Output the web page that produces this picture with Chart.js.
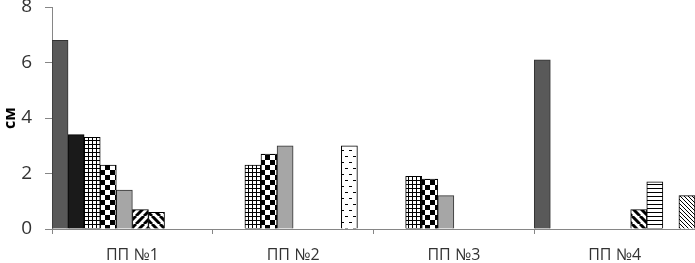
<!DOCTYPE html>
<html>
<head>
<meta charset="utf-8">
<script src="https://cdn.jsdelivr.net/npm/chart.js@4/dist/chart.umd.min.js"></script>
<style>
  html,body{margin:0;padding:0;background:#fff;}
  #c{display:block;}
</style>
</head>
<body>
<canvas id="c" width="695" height="263"></canvas>
<script>
/* ---- data ------------------------------------------------------------ */
const CATS = ["ПП №1", "ПП №2", "ПП №3", "ПП №4"];
const Y_TICKS = [0, 2, 4, 6, 8];
const S0 = [6.8, null, null, 6.1];
const S1 = [3.4, null, null, null];
const S2 = [3.3, 2.3, 1.9, null];
const S3 = [2.3, 2.7, 1.8, null];
const S4 = [1.4, 3.0, 1.2, null];
const S5 = [0.7, null, null, null];
const S6 = [0.6, null, null, 0.7];
const S7 = [null, null, null, 1.7];
const S8 = [null, 3.0, null, null];
const S9 = [null, null, null, 1.2];

/* ---- fill patterns --------------------------------------------------- */
const ctx0 = document.getElementById("c").getContext("2d");
function pat(w, h, draw){
  const cv = document.createElement("canvas");
  cv.width = w; cv.height = h;
  const g = cv.getContext("2d");
  g.fillStyle = "#fff"; g.fillRect(0,0,w,h);
  g.fillStyle = "#000"; g.strokeStyle = "#000";
  draw(g);
  return ctx0.createPattern(cv, "repeat");
}
const P_GRID = pat(4, 4, g=>{ g.fillRect(0,0,4,1); g.fillRect(0,0,1,4); });
const P_CHECK = pat(10, 10, g=>{ g.fillRect(0,0,5,5); g.fillRect(5,5,5,5); });
const P_UP = pat(8, 8, g=>{
  g.lineWidth = 3;
  g.beginPath();
  for(let k=-1;k<=1;k++){ g.moveTo(k*8, 8); g.lineTo(k*8+8, 0); }
  g.stroke();
});
const P_DOWN = pat(8, 8, g=>{
  g.lineWidth = 3;
  g.beginPath();
  for(let k=-1;k<=1;k++){ g.moveTo(k*8, 0); g.lineTo(k*8+8, 8); }
  g.stroke();
});
const P_HLINE = pat(4, 4, g=>{ g.fillRect(0,0,4,1); });
const P_DASH = pat(8, 12, g=>{ g.fillRect(1,0,3,1); g.fillRect(5,6,3,1); });
const P_THIN = pat(4, 4, g=>{
  g.fillRect(0,0,1,1); g.fillRect(1,1,1,1); g.fillRect(2,2,1,1); g.fillRect(3,3,1,1);
});

/* ---- chart ----------------------------------------------------------- */
const SERIES = [
  [S0, "#595959", "#333"],
  [S1, "#1a1a1a", "#000"],
  [S2, P_GRID, "#000"],
  [S3, P_CHECK, "#000"],
  [S4, "#a6a6a6", "#333"],
  [S5, P_UP, "#000"],
  [S6, P_DOWN, "#000"],
  [S7, P_HLINE, "#000"],
  [S8, P_DASH, "#000"],
  [S9, P_THIN, "#000"]
];

const TXT = "#333";
const FONT = "'Open Sans', 'DejaVu Sans', sans-serif";

new Chart(document.getElementById("c"), {
  type: "bar",
  data: {
    labels: CATS,
    datasets: SERIES.map(([d, bg, bc], i) => ({
      label: "s" + i, data: d, backgroundColor: bg, borderColor: bc,
      borderWidth: 1, categoryPercentage: 1, barPercentage: 1
    }))
  },
  options: {
    responsive: false,
    animation: false,
    layout: { autoPadding: false, padding: { top: 7, right: 0, left: 0, bottom: 0 } },
    plugins: { legend: { display: false }, tooltip: { enabled: false } },
    scales: {
      x: {
        grid: { display: true, offset: true, drawOnChartArea: false, drawTicks: true, tickLength: 5, color: "#868686" },
        border: { color: "#868686", width: 1 },
        ticks: { color: TXT, font: { family: FONT, size: 16 }, padding: 12 },
        afterFit: s => { s.height = 34; }
      },
      y: {
        min: 0, max: 8,
        afterBuildTicks: s => { s.ticks = Y_TICKS.map(v => ({ value: v })); },
        // long tick so labels sit further out; dash keeps only the 7px next to the axis visible
        grid: { display: true, drawOnChartArea: false, drawTicks: true, tickLength: 20, color: "#868686",
                tickBorderDash: [7, 13], tickBorderDashOffset: 7 },
        border: { color: "#868686", width: 1 },
        ticks: { color: TXT, font: { family: FONT, size: 19, lineHeight: 0.74 }, padding: 0 },
        title: { display: true, text: "см", color: "#000", font: { family: FONT, size: 16, weight: "bold" }, padding: { top: 1, bottom: 0 } },
        afterFit: s => { s.width = 52; }
      }
    }
  }
});
</script>
</body>
</html>
